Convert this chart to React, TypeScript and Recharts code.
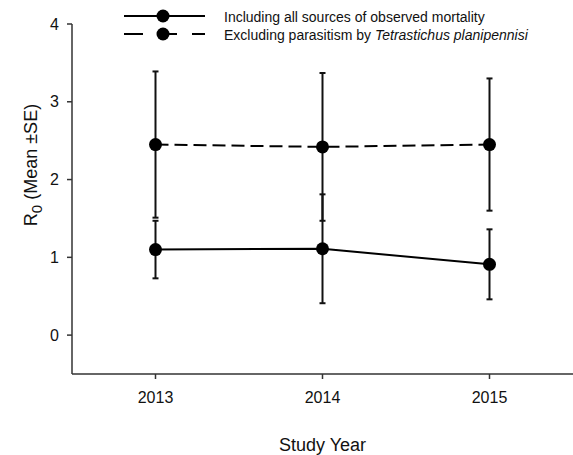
import React from "react";
import { LineChart, Line, XAxis, YAxis, ErrorBar, Label } from "recharts";

const years = [2013, 2014, 2015];
const allSources = [1.1, 1.11, 0.91];
const allSourcesSE = [0.37, 0.7, 0.45];
const exclParasitism = [2.45, 2.42, 2.45];
const exclParasitismSE = [0.94, 0.95, 0.85];
const yTicks = [0, 1, 2, 3, 4];

const FONT = '"Liberation Sans", Arial, sans-serif';

const data = years.map((year, i) => ({
  year,
  all: allSources[i],
  allErr: allSourcesSE[i],
  excl: exclParasitism[i],
  exclErr: exclParasitismSE[i],
}));

function LegendBox() {
  const rows = [
    { y: 16, dash: undefined, parts: [{ t: "Including all sources of observed mortality" }] },
    {
      y: 34,
      dash: "19 15",
      parts: [{ t: "Excluding parasitism by " }, { t: "Tetrastichus planipennisi", italic: true }],
    },
  ];
  return (
    <svg width={573} height={50} style={{ position: "absolute", left: 0, top: 0 }}>
      {rows.map((r, i) => (
        <g key={i}>
          <line x1={124} x2={205} y1={r.y} y2={r.y} stroke="#000" strokeWidth={2} strokeDasharray={r.dash} />
          <circle cx={163} cy={r.y} r={6.5} fill="#000" />
          <text x={224} y={r.y + 6} fontSize={14} fontFamily={FONT} fill="#111">
            {r.parts.map((p, j) => (
              <tspan key={j} fontStyle={p.italic ? "italic" : "normal"}>
                {p.t}
              </tspan>
            ))}
          </text>
        </g>
      ))}
    </svg>
  );
}

export default function App() {
  const tick = { fontSize: 16, fontFamily: FONT, fill: "#111" };
  return (
    <div style={{ position: "absolute", left: 0, top: 0, width: 573, height: 455, background: "#fff" }}>
      <LineChart width={573} height={455} data={data} margin={{ top: 24, right: 0, bottom: 0, left: 0 }}>
        <XAxis
          dataKey="year"
          type="number"
          domain={[2012.5, 2015.5]}
          ticks={years}
          height={81}
          tickSize={5}
          tickMargin={13}
          tick={tick}
          stroke="#333"
          strokeWidth={1.5}
        >
          <Label
            content={() => (
              <text x={322.5} y={451} textAnchor="middle" fontSize={18} fontFamily={FONT} fill="#111">
                Study Year
              </text>
            )}
          />
        </XAxis>
        <YAxis
          type="number"
          domain={[-0.5, 4]}
          ticks={yTicks}
          width={72}
          tickSize={5}
          tickMargin={8}
          tick={tick}
          stroke="#333"
          strokeWidth={1.5}
        >
          <Label
            content={() => (
              <text
                transform="translate(37,165) rotate(-90)"
                textAnchor="middle"
                fontSize={18}
                fontFamily={FONT}
                fill="#111"
              >
                R
                <tspan dy={5} fontSize={15}>0</tspan>
                <tspan dy={-5}> (Mean ±SE)</tspan>
              </text>
            )}
          />
        </YAxis>
        <Line
          dataKey="all"
          stroke="#000"
          strokeWidth={2}
          dot={{ r: 6.5, fill: "#000", stroke: "#000", strokeWidth: 0 }}
          activeDot={false}
          isAnimationActive={false}
        >
          <ErrorBar dataKey="allErr" direction="y" width={3} stroke="#111" strokeWidth={2} />
        </Line>
        <Line
          dataKey="excl"
          stroke="#000"
          strokeWidth={2}
          strokeDasharray="13 6"
          dot={{ r: 6.5, fill: "#000", stroke: "#000", strokeWidth: 0, strokeDasharray: "" }}
          activeDot={false}
          isAnimationActive={false}
        >
          <ErrorBar dataKey="exclErr" direction="y" width={3} stroke="#111" strokeWidth={2} />
        </Line>
      </LineChart>
      <LegendBox />
    </div>
  );
}
